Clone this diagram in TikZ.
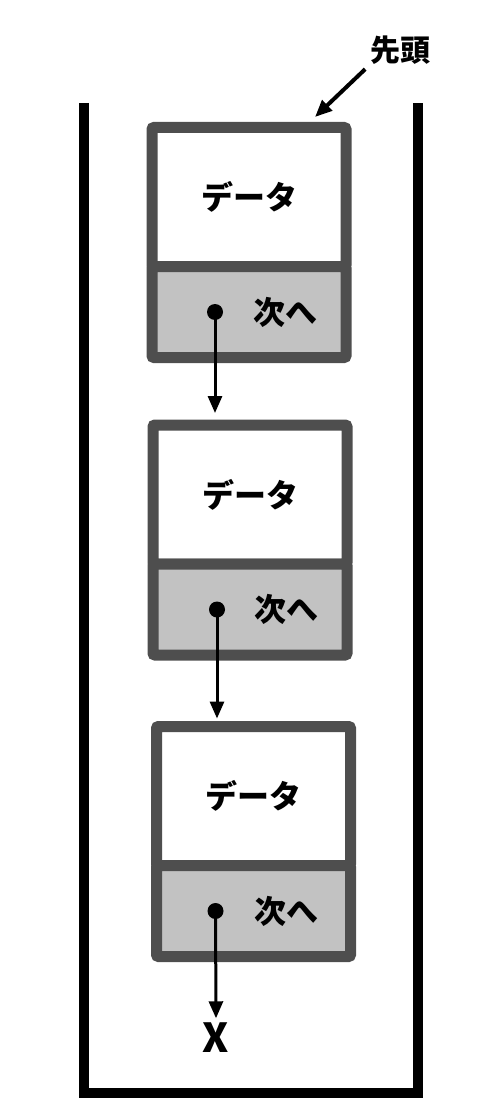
\documentclass[tikz,border=0pt]{standalone}
\usepackage{fontspec}
\setmainfont{Noto Sans CJK JP}
\usetikzlibrary{positioning, arrows.meta}

\definecolor{framegray}{HTML}{4E4E4E}
\definecolor{fillgray}{HTML}{C2C2C2}

\begin{document}
\begin{tikzpicture}[x=1pt, y=-1pt, >={Triangle[length=17pt,width=14pt]}, line width=3pt,
  data/.style={draw=framegray, fill=white, line width=11pt, rounded corners=2pt,
    minimum width=194pt, minimum height=139pt, inner sep=0pt, outer sep=0pt,
    font=\bfseries\fontsize{32}{32}\selectfont},
  next/.style={draw=framegray, fill=fillgray, line width=11pt, rounded corners=2pt,
    minimum width=194pt, minimum height=91pt, inner sep=0pt, outer sep=0pt},
  nextlabel/.style={font=\bfseries\fontsize{32}{32}\selectfont},
  dot/.style={circle, fill=black, minimum size=16pt, inner sep=0pt}]

\useasboundingbox (0,0) rectangle (503,1105);

% Define coordinates
\coordinate (C1) at (249,197);
\coordinate (C2) at (250,494.5);
\coordinate (C3) at (253.5,796);
\coordinate (headtip) at (315,117);

% Draw the container
\draw[line width=10pt, line join=miter] (84,103) -- (84,1093) -- (418,1093) -- (418,103);

% Draw the three cells
\node[data] (d1) at (C1) {データ};
\node[next, below=0pt of d1] (n1) {};
\node[data] (d2) at (C2) {データ};
\node[next, below=0pt of d2] (n2) {};
\node[data] (d3) at (C3) {データ};
\node[next, below=0pt of d3] (n3) {};

% Pointer dots and labels
\node[dot] (p1) at ([xshift=-34pt]n1.center) {};
\node[nextlabel] (t1) at ([xshift=36pt]n1.center) {次へ};
\node[dot] (p2) at ([xshift=-33pt]n2.center) {};
\node[nextlabel] (t2) at ([xshift=36pt]n2.center) {次へ};
\node[dot] (p3) at ([xshift=-38pt]n3.center) {};
\node[nextlabel] (t3) at ([xshift=33pt]n3.center) {次へ};

% End of list
\node[font=\bfseries\fontsize{40}{40}\selectfont] (nil) at (216,1038) {X};

% Head label
\node[font=\bfseries\fontsize{30}{30}\selectfont] (head) at (400,50) {先頭};

% Draw links
\draw[->] (p1.center) -- (p1.center |- d2.north) [shorten >=12pt];
\draw[->] (p2.center) -- (p2.center |- d3.north) [shorten >=8pt];
\draw[->] (p3.center) -- (nil.north);
\draw[->, line width=4pt] (head.south west) -- (headtip);

\end{tikzpicture}
\end{document}
